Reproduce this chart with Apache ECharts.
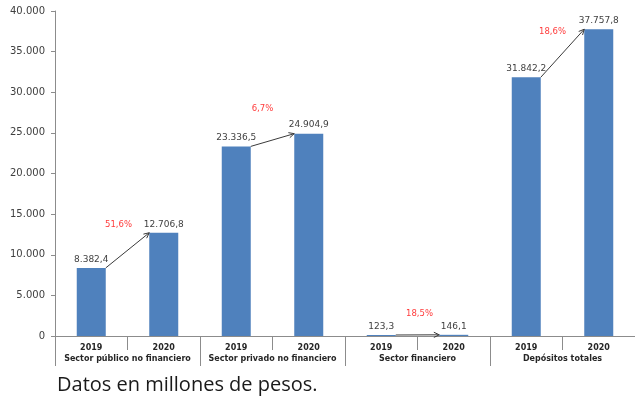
<!DOCTYPE html>
<html>
<head>
<meta charset="utf-8">
<script src="https://cdn.jsdelivr.net/npm/echarts@6/dist/echarts.min.js"></script>
<style>
  html, body { margin: 0; padding: 0; background: #fff; }
  #chart { width: 635px; height: 399px; }
</style>
</head>
<body>
<div id="chart"></div>
<script>
// Deposit totals by sector, 2019 vs 2020 (millions of pesos)
const groups = ['Sector público no financiero', 'Sector privado no financiero', 'Sector financiero', 'Depósitos totales'];
const years = ['2019', '2020'];
const values2019 = [8382.4, 23336.5, 123.3, 31842.2];
const values2020 = [12706.8, 24904.9, 146.1, 37757.8];
const yMin = 0, yMax = 40000, yStep = 5000;

// layout of the growth-rate labels relative to the arrow midpoint (px)
const pctLabelOffsets = [[-9, 8], [-10, 25], [2, 21], [-10, -3]];

const BAR_RATIO = 0.4;
const BLUE = '#4F81BD';
const AXIS_GREY = '#8C8C8C';
const TEXT = '#404040';

function fmtEs(v, dec) {
  const parts = v.toFixed(dec).split('.');
  parts[0] = parts[0].replace(/\B(?=(\d{3})+(?!\d))/g, '.');
  return parts.join(',');
}

// one category per (group, year) pair
const yearCats = [];
const barValues = [];
groups.forEach((g, i) => {
  yearCats.push(years[0] + '|' + i);
  barValues.push(values2019[i]);
  yearCats.push(years[1] + '|' + i);
  barValues.push(values2020[i]);
});

const arrowData = groups.map((g, i) => [2 * i, values2019[i], 2 * i + 1, values2020[i]]);

const chart = echarts.init(document.getElementById('chart'), null, { renderer: 'canvas' });

chart.setOption({
  animation: false,
  grid: { left: 55, right: 0, top: 11, bottom: 63, containLabel: false },
  xAxis: [
    {
      type: 'category',
      data: yearCats,
      position: 'bottom',
      axisLine: { show: true, lineStyle: { color: AXIS_GREY, width: 1 } },
      axisTick: { show: true, interval: 0, length: 14, lineStyle: { color: AXIS_GREY } },
      axisLabel: {
        interval: 0, margin: 8,
        formatter: v => v.split('|')[0],
        fontFamily: 'DejaVu Sans', fontWeight: 'bold', fontSize: 8, color: '#262626'
      }
    },
    {
      type: 'category',
      data: groups,
      position: 'bottom',
      offset: 0,
      axisLine: { show: false },
      axisTick: { show: true, interval: 0, length: 30, lineStyle: { color: AXIS_GREY } },
      axisLabel: {
        interval: 0, margin: 19,
        fontFamily: 'DejaVu Sans', fontWeight: 'bold', fontSize: 8, color: '#262626'
      }
    }
  ],
  yAxis: {
    type: 'value',
    min: yMin, max: yMax, interval: yStep,
    splitLine: { show: false },
    axisLine: { show: true, lineStyle: { color: AXIS_GREY } },
    axisTick: { show: true, length: 4, lineStyle: { color: AXIS_GREY } },
    axisLabel: {
      margin: 10,
      formatter: v => fmtEs(v, 0),
      fontFamily: 'DejaVu Sans', fontSize: 10, color: TEXT
    }
  },
  series: [
    {
      type: 'bar',
      xAxisIndex: 0,
      data: barValues,
      barWidth: (BAR_RATIO * 100) + '%',
      itemStyle: { color: BLUE },
      label: {
        show: true, position: 'top', distance: 4,
        formatter: p => fmtEs(p.value, 1),
        fontFamily: 'DejaVu Sans', fontSize: 9, color: TEXT
      }
    },
    {
      type: 'custom',
      xAxisIndex: 0,
      data: arrowData,
      encode: { x: [0, 2], y: [1, 3] },
      clip: false,
      z: 5,
      renderItem: function (params, api) {
        const i = params.dataIndex;
        const a = api.coord([api.value(0), api.value(1)]);
        const b = api.coord([api.value(2), api.value(3)]);
        const hw = api.size([1, 0])[0] * BAR_RATIO / 2;
        const p1 = [a[0] + hw, a[1]];
        const p2 = [b[0] - hw, b[1]];
        const ang = Math.atan2(p2[1] - p1[1], p2[0] - p1[0]);
        const L = 6, spread = 0.45;
        const h1 = [p2[0] - L * Math.cos(ang - spread), p2[1] - L * Math.sin(ang - spread)];
        const h2 = [p2[0] - L * Math.cos(ang + spread), p2[1] - L * Math.sin(ang + spread)];
        const pct = (api.value(3) / api.value(1) - 1) * 100;
        const off = pctLabelOffsets[i];
        const tx = (p1[0] + p2[0]) / 2 + off[0];
        const ty = Math.min(p1[1], p2[1]) - off[1];
        return {
          type: 'group',
          children: [
            {
              type: 'line',
              shape: { x1: p1[0], y1: p1[1], x2: p2[0], y2: p2[1] },
              style: { stroke: '#3A3A3A', lineWidth: 1 }
            },
            {
              type: 'polyline',
              shape: { points: [h1, p2, h2] },
              style: { stroke: '#3A3A3A', lineWidth: 1, fill: null }
            },
            {
              type: 'text',
              x: tx, y: ty,
              style: {
                text: fmtEs(pct, 1) + '%',
                align: 'center', verticalAlign: 'middle',
                font: '8.5px "DejaVu Sans"', fill: '#FF3B3B'
              }
            }
          ]
        };
      }
    }
  ],
  graphic: [
    {
      type: 'text',
      x: 57, y: 385,
      style: {
        text: 'Datos en millones de pesos.',
        font: '20px "Open Sans"', fill: '#1A1A1A',
        verticalAlign: 'middle'
      }
    }
  ]
});
</script>
</body>
</html>
